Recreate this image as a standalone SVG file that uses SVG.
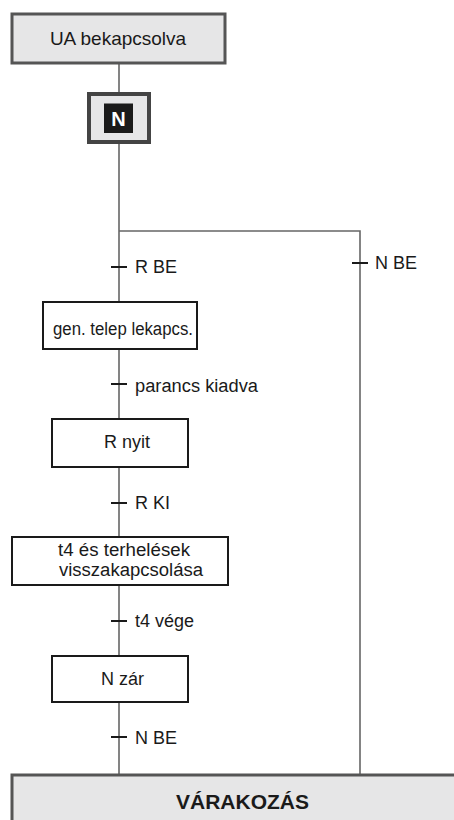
<svg xmlns="http://www.w3.org/2000/svg" width="454" height="820" viewBox="0 0 454 820">
<style>
text{font-family:"Liberation Sans",Arial,sans-serif;font-size:18px;fill:#1a1a1a}
.c{text-anchor:middle}
.line{stroke:#666;stroke-width:1.6;fill:none}
.tick{stroke:#1a1a1a;stroke-width:2}
.step{fill:#fff;stroke:#1a1a1a;stroke-width:2}
.gray{fill:#e6e6e7;stroke:#555;stroke-width:3}
</style>
<rect width="454" height="820" fill="#fff"/>
<g id="connectors">
<path class="line" d="M119 63V775M119 231H360V775"/>
<path class="tick" d="M111 267H127M352 263H368M111 384H127M111 503H127M111 621H127M111 737H127"/>
</g>
<g id="ua"><rect class="gray" x="12" y="14" width="213" height="49"/><text class="c" x="118" y="44.5" style="font-size:19px">UA bekapcsolva</text></g>
<g id="n"><rect x="89" y="94" width="60" height="48" fill="#e6e6e7" stroke="#444" stroke-width="4"/><rect x="104" y="103.5" width="29" height="29.5" fill="#1a1a1a"/><text class="c" x="118.5" y="126" style="font-size:20px;font-weight:bold;fill:#fff">N</text></g>
<g id="t1"><text x="135" y="273">R BE</text></g>
<g id="t2"><text x="375" y="269">N BE</text></g>
<g id="gen"><rect class="step" x="43" y="302" width="154" height="47"/><text x="53" y="335" textLength="140" lengthAdjust="spacingAndGlyphs">gen. telep lekapcs.</text></g>
<g id="t3"><text x="135" y="392" textLength="123" lengthAdjust="spacingAndGlyphs">parancs kiadva</text></g>
<g id="rnyit"><rect class="step" x="52" y="419" width="136" height="48"/><text x="104" y="448">R nyit</text></g>
<g id="t4"><text x="135" y="509">R KI</text></g>
<g id="t4box"><rect class="step" x="12" y="537" width="216" height="48"/><text x="58" y="556" textLength="132" lengthAdjust="spacingAndGlyphs">t4 és terhelések</text><text x="59" y="576" textLength="144" lengthAdjust="spacingAndGlyphs">visszakapcsolása</text></g>
<g id="t5"><text x="135" y="627">t4 vége</text></g>
<g id="nzar"><rect class="step" x="52" y="656" width="136" height="46"/><text x="101" y="685">N zár</text></g>
<g id="t6"><text x="135" y="744">N BE</text></g>
<g id="var"><rect class="gray" x="12" y="775" width="460" height="60"/><text class="c" x="242.5" y="809" style="font-size:21px;font-weight:bold">VÁRAKOZÁS</text></g>
</svg>
